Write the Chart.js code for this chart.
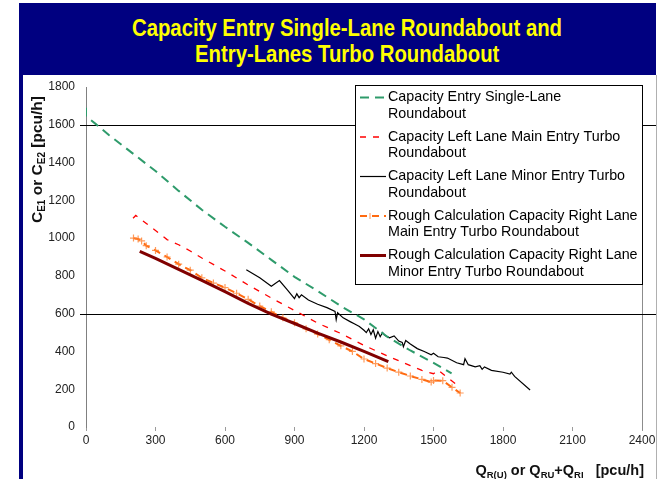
<!DOCTYPE html>
<html>
<head>
<meta charset="utf-8">
<script src="https://cdn.jsdelivr.net/npm/chart.js@4.4.1/dist/chart.umd.min.js"></script>
<style>
  html, body { margin: 0; padding: 0; background: #fff; }
  body { width: 659px; height: 479px; position: relative; overflow: hidden; }
  #c { position: absolute; left: 0; top: 0; }
  #banner {
    position: absolute; left: 19px; top: 3px; width: 637px; height: 72px;
    background: #000080; overflow: hidden;
  }
  .tl {
    position: absolute; left: 0; white-space: nowrap; color: #ffff00;
    font-family: "Liberation Sans", Arial, sans-serif; font-weight: bold; font-size: 24px; line-height: 26px;
    transform-origin: 0 50%;
  }
  #leftbar { position: absolute; left: 19px; top: 3px; width: 4px; height: 476px; background: #000080; }
  #rightline { position: absolute; left: 656px; top: 75px; width: 1px; height: 404px; background: #b0b0b0; }
</style>
</head>
<body>
<canvas id="c" width="659" height="479"></canvas>
<div id="leftbar"></div>
<div id="rightline"></div>
<div id="banner">
  <span class="tl" id="t1">Capacity Entry Single-Lane Roundabout and</span>
  <span class="tl" id="t2">Entry-Lanes Turbo Roundabout</span>
</div>
<script>
// ---------- data ----------
const xTicks = [0, 300, 600, 900, 1200, 1500, 1800, 2100, 2400];
const yTicks = [0, 200, 400, 600, 800, 1000, 1200, 1400, 1600, 1800];
const refLevels = [600, 1600];

const seriesNames = [
  ["Capacity Entry Single-Lane", "Roundabout"],
  ["Capacity Left Lane Main Entry Turbo", "Roundabout"],
  ["Capacity Left Lane Minor Entry Turbo", "Roundabout"],
  ["Rough Calculation Capacity Right Lane", "Main Entry Turbo Roundabout"],
  ["Rough Calculation Capacity Right Lane", "Minor Entry Turbo Roundabout"]
];

// Capacity Entry Single-Lane Roundabout (green dashed)
const singleQ = [0, 0, 40, 100, 200, 300, 400, 500, 600, 700, 800, 900, 1000, 1100, 1200, 1300, 1400, 1500, 1578];
const singleC = [1690, 1645, 1606, 1545, 1450, 1355, 1250, 1150, 1060, 975, 885, 795, 720, 640, 570, 478, 405, 340, 284];

// Capacity Left Lane Main Entry Turbo Roundabout (red dashed)
const leftMainQ = [203, 215, 300, 350, 400, 450, 500, 600, 700, 800, 900, 1000, 1100, 1200, 1300, 1400, 1450, 1500, 1520, 1560, 1610];
const leftMainC = [1105, 1120, 1040, 992, 965, 932, 895, 826, 752, 683, 617, 550, 495, 432, 377, 325, 300, 282, 302, 262, 215];

// Capacity Left Lane Minor Entry Turbo Roundabout (black solid)
const leftMinorQ = [692, 750, 800, 835, 870, 900, 910, 920, 930, 960, 1000, 1040, 1075, 1080, 1086, 1110, 1140, 1160, 1180, 1200, 1210, 1220, 1230, 1240, 1250, 1260, 1270, 1280, 1290, 1310, 1330, 1350, 1365, 1370, 1380, 1400, 1430, 1460, 1490, 1500, 1520, 1545, 1560, 1600, 1630, 1636, 1650, 1680, 1700, 1710, 1720, 1750, 1800, 1830, 1836, 1850, 1917];
const leftMinorC = [832, 790, 745, 775, 725, 680, 705, 685, 700, 672, 650, 632, 612, 568, 605, 578, 558, 545, 532, 512, 500, 520, 490, 515, 470, 505, 478, 500, 485, 472, 482, 455, 448, 425, 458, 440, 415, 400, 382, 390, 372, 368, 365, 340, 330, 362, 330, 318, 325, 305, 318, 300, 290, 280, 290, 268, 196];

// Rough Calculation Capacity Right Lane Main Entry (orange dashed with crosses)
const rightMainQ = [205, 225, 240, 260, 300, 350, 400, 450, 500, 550, 600, 650, 700, 750, 800, 850, 900, 950, 1000, 1050, 1100, 1150, 1200, 1250, 1300, 1350, 1400, 1450, 1490, 1500, 1540, 1580, 1615];
const rightMainC = [1000, 995, 985, 960, 935, 900, 862, 830, 790, 762, 738, 708, 676, 640, 610, 578, 552, 520, 492, 462, 430, 400, 360, 336, 312, 290, 270, 252, 238, 246, 245, 210, 180];

// Rough Calculation Capacity Right Lane Minor Entry (dark red solid)
const rightMinorQ = [232, 300, 400, 500, 600, 700, 800, 900, 1000, 1100, 1200, 1305];
const rightMinorC = [930, 893, 835, 776, 717, 655, 598, 548, 497, 450, 400, 346];

// ---------- title layout (condensed bold like the reference) ----------
(function () {
  const t1 = document.getElementById('t1'), t2 = document.getElementById('t2');
  const w1 = t1.getBoundingClientRect().width;
  const w2 = t2.getBoundingClientRect().width;
  const s = 430 / w1;
  const centre = 347 - 19; // relative to banner
  t1.style.top = '12px';
  t2.style.top = '38px';
  t1.style.left = (centre - w1 * s / 2) + 'px';
  t2.style.left = (centre - w2 * s / 2) + 'px';
  t1.style.transform = 'scaleX(' + s + ')';
  t2.style.transform = 'scaleX(' + s + ')';
})();

// ---------- build ----------
const zip = (xs, ys) => xs.map((x, i) => ({ x: x, y: ys[i] }));

const styles = [
  { color: '#2e9b6b', width: 2, dash: [9, 6] },
  { color: '#ff0000', width: 1.3, dash: [6, 7] },
  { color: '#000000', width: 1.2, dash: [] },
  { color: '#ff6a10', width: 2, dash: [7, 5], marker: true },
  { color: '#800000', width: 3, dash: [] }
];

const datasets = [
  zip(singleQ, singleC), zip(leftMainQ, leftMainC), zip(leftMinorQ, leftMinorC),
  zip(rightMainQ, rightMainC), zip(rightMinorQ, rightMinorC)
].map((d, i) => ({
  label: seriesNames[i].join(' '),
  data: d,
  borderColor: styles[i].color,
  borderWidth: styles[i].width,
  borderDash: styles[i].dash,
  pointRadius: styles[i].marker ? 3.5 : 0,
  pointStyle: 'cross',
  pointBorderColor: 'rgba(255,130,50,0.8)',
  pointBorderWidth: 1.2,
  tension: 0,
  fill: false
}));
const drawOrder = [0, 1, 2, 4, 3];
datasets.forEach((d, i) => { d.order = drawOrder.indexOf(i); });

function drawRich(ctx, parts, x, y, align, size, subSize) {
  let total = 0;
  parts.forEach(p => {
    ctx.font = 'bold ' + (p[1] ? subSize : size) + 'px "Liberation Sans", Arial, sans-serif';
    total += ctx.measureText(p[0]).width;
  });
  let cx = align === 'right' ? x - total : (align === 'center' ? x - total / 2 : x);
  ctx.textAlign = 'left';
  ctx.textBaseline = 'alphabetic';
  parts.forEach(p => {
    ctx.font = 'bold ' + (p[1] ? subSize : size) + 'px "Liberation Sans", Arial, sans-serif';
    ctx.fillText(p[0], cx, y + (p[1] ? 3 : 0));
    cx += ctx.measureText(p[0]).width;
  });
}

const decor = {
  id: 'decor',
  beforeDatasetsDraw(chart) {
    const ctx = chart.ctx, a = chart.chartArea, ys = chart.scales.y;
    ctx.save();
    ctx.strokeStyle = '#8c8c8c'; ctx.lineWidth = 1;
    ctx.beginPath(); ctx.moveTo(a.right + 0.5, a.top - 2); ctx.lineTo(a.right + 0.5, a.bottom + 3); ctx.stroke();
    ctx.strokeStyle = '#000'; ctx.lineWidth = 1.2;
    refLevels.forEach(v => {
      const py = Math.round(ys.getPixelForValue(v)) + 0.5;
      ctx.beginPath(); ctx.moveTo(a.left - 6, py); ctx.lineTo(chart.width - 3, py); ctx.stroke();
    });
    ctx.restore();
  },
  afterDraw(chart) {
    const ctx = chart.ctx, a = chart.chartArea;
    ctx.save();
    ctx.fillStyle = '#111';
    drawRich(ctx, [['Q', 0], ['R(U)', 1], [' or Q', 0], ['RU', 1], ['+Q', 0], ['RI', 1], ['   [pcu/h]', 0]],
      a.right + 2, 475, 'right', 14.5, 9.5);
    ctx.save();
    ctx.translate(42, 223);
    ctx.rotate(-Math.PI / 2);
    drawRich(ctx, [['C', 0], ['E1', 1], [' or C', 0], ['E2', 1], [' [pcu/h]', 0]], 0, 0, 'left', 15.5, 10);
    ctx.restore();

    const bx = 355, by = 85, bw = a.right - 355, bh = 199;
    ctx.fillStyle = '#fff';
    ctx.fillRect(bx, by, bw, bh);
    ctx.strokeStyle = '#000'; ctx.lineWidth = 1;
    ctx.strokeRect(bx + 0.5, by + 0.5, bw, bh);
    ctx.font = '14.3px "Liberation Sans", Arial, sans-serif';
    ctx.textBaseline = 'middle'; ctx.textAlign = 'left';
    chart.data.datasets.forEach((ds, i) => {
      const ly = 97.5 + i * 39.5;
      const st = styles[i];
      ctx.save();
      ctx.strokeStyle = st.color; ctx.lineWidth = st.width; ctx.setLineDash(st.dash);
      ctx.beginPath(); ctx.moveTo(360, ly); ctx.lineTo(386, ly); ctx.stroke();
      if (st.marker) {
        ctx.setLineDash([]); ctx.lineWidth = 1; ctx.strokeStyle = 'rgba(255,140,70,0.9)';
        ctx.beginPath(); ctx.moveTo(370, ly - 3); ctx.lineTo(370, ly + 3); ctx.stroke();
      }
      ctx.restore();
      ctx.fillStyle = '#000';
      ctx.fillText(seriesNames[i][0], 388, ly);
      ctx.fillText(seriesNames[i][1], 388, ly + 16.5);
    });
    ctx.restore();
  }
};

const tickFont = { family: '"Liberation Sans", Arial, sans-serif', size: 12 };
new Chart(document.getElementById('c'), {
  type: 'line',
  data: { datasets: datasets },
  options: {
    responsive: false,
    animation: false,
    events: [],
    layout: { padding: { left: 0, top: 87, right: 17, bottom: 0 } },
    plugins: { legend: { display: false }, title: { display: false }, tooltip: { enabled: false } },
    scales: {
      x: {
        type: 'linear', min: 0, max: 2400,
        afterBuildTicks: s => { s.ticks = xTicks.map(v => ({ value: v })); },
        afterFit: s => { s.height = 52; },
        ticks: { color: '#222', font: tickFont, padding: 2, maxRotation: 0, callback: v => String(v) },
        grid: { drawOnChartArea: false, drawTicks: true, tickLength: 4, color: '#9a9a9a' },
        border: { display: false }
      },
      y: {
        type: 'linear', min: 0, max: 1800,
        afterBuildTicks: s => { s.ticks = yTicks.map(v => ({ value: v })); },
        afterFit: s => { s.width = 86; },
        ticks: { color: '#222', font: tickFont, padding: 11, callback: v => String(v) },
        grid: { display: true, drawOnChartArea: false, drawTicks: false, color: 'rgba(0,0,0,0)' },
        border: { display: true, color: '#808080', width: 1 }
      }
    }
  },
  plugins: [decor]
});
</script>
</body>
</html>
